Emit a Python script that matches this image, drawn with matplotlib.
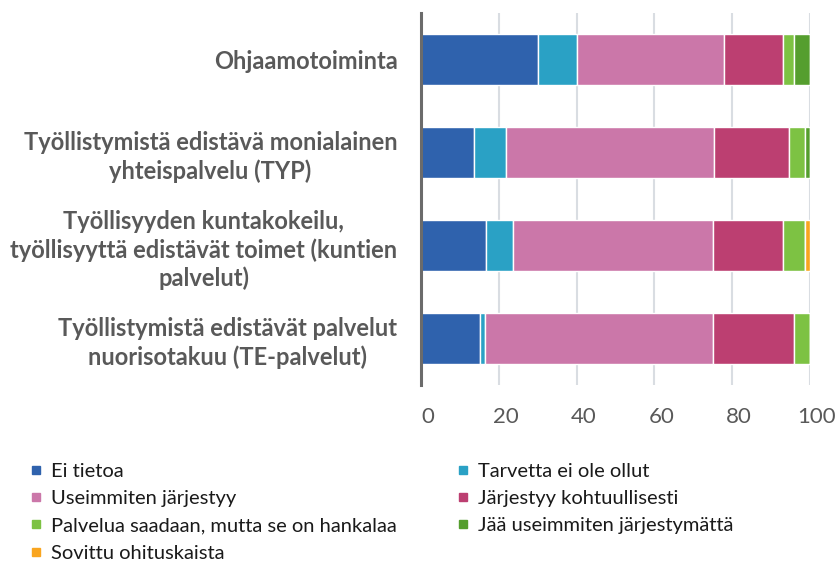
import matplotlib
matplotlib.use("Agg")
import matplotlib.pyplot as plt
from matplotlib.lines import Line2D
from matplotlib.transforms import ScaledTranslation

plt.rcParams['font.family'] = ['Lato', 'DejaVu Sans']

# data (percent)
categories = [
    "Ohjaamotoiminta",
    "Työllistymistä edistävä monialainen\nyhteispalvelu (TYP)",
    "Työllisyyden kuntakokeilu,\ntyöllisyyttä edistävät toimet (kuntien\npalvelut)",
    "Työllistymistä edistävät palvelut\nnuorisotakuu (TE-palvelut)",
]
series_names = [
    "Ei tietoa",
    "Tarvetta ei ole ollut",
    "Useimmiten järjestyy",
    "Järjestyy kohtuullisesti",
    "Palvelua saadaan, mutta se on hankalaa",
    "Jää useimmiten järjestymättä",
    "Sovittu ohituskaista",
]
ei_tietoa = [30.0, 13.7, 16.8, 15.2]
tarvetta_ei = [10.0, 8.2, 6.8, 1.3]
useimmiten = [37.8, 53.4, 51.4, 58.5]
kohtuullisesti = [15.2, 19.2, 18.0, 20.8]
hankalaa = [2.9, 4.1, 5.6, 4.2]
jarjestymatta = [4.1, 1.3, 0.0, 0.0]
ohituskaista = [0.0, 0.0, 1.4, 0.0]
x_ticks = [0, 20, 40, 60, 80, 100]

colors = ["#2F62AD", "#2AA1C5", "#CB77A9", "#BC3F71", "#7DC243", "#559E2E", "#F9A51F"]
all_series = [ei_tietoa, tarvetta_ei, useimmiten, kohtuullisesti, hankalaa, jarjestymatta, ohituskaista]

fig = plt.figure(figsize=(8.35, 5.67), dpi=100)
ax = fig.add_axes([421 / 835, 1 - 385 / 567, (810 - 421) / 835, (385 - 13) / 567])

ypos = list(range(len(categories)))
left = [0.0] * len(categories)
for name, vals, col in zip(series_names, all_series, colors):
    ax.barh(ypos, vals, left=left, height=0.54, color=col, edgecolor='white',
            linewidth=1, label=name, zorder=2)
    left = [l + v for l, v in zip(left, vals)]

ax.set_xlim(0, 100)
ax.set_ylim(3.5, -0.5)
ax.set_xticks(x_ticks)
ax.set_yticks(ypos)
ax.set_yticklabels(categories, fontsize=17, fontweight='bold', color='#595959',
                   multialignment='center', linespacing=1.26)
ax.tick_params(axis='y', length=0, pad=17)
ax.tick_params(axis='x', length=0, pad=16, labelsize=16, labelcolor='#595959')

# tick labels sit a little to the right of the grid lines
for lab in ax.get_xticklabels():
    lab.set_transform(lab.get_transform() + ScaledTranslation(7 / 100, 0, fig.dpi_scale_trans))

for g in x_ticks[1:]:
    ax.axvline(g, color='#D9DDE2', linewidth=1.5, zorder=1)

for s in ['top', 'right', 'bottom']:
    ax.spines[s].set_visible(False)
ax.spines['left'].set_color('#6B6B6B')
ax.spines['left'].set_linewidth(2.2)
ax.spines['left'].set_zorder(3)

# legend in two columns, filled row by row
handles = [Line2D([], [], marker='s', linestyle='', markersize=5.5, color=c) for c in colors]
left_idx = [0, 2, 4, 6]
right_idx = [1, 3, 5]
kw = dict(frameon=False, fontsize=14.5, labelspacing=0.5, handlelength=0.55,
          handletextpad=0.5, borderpad=0, borderaxespad=0, loc='upper left', labelcolor='#1A1A1A')
fig.legend([handles[i] for i in left_idx], [series_names[i] for i in left_idx],
           bbox_to_anchor=(30 / 835, 1 - 463 / 567), **kw)
fig.legend([handles[i] for i in right_idx], [series_names[i] for i in right_idx],
           bbox_to_anchor=(457 / 835, 1 - 463 / 567), **kw)

fig.savefig("out.png", dpi=100)
